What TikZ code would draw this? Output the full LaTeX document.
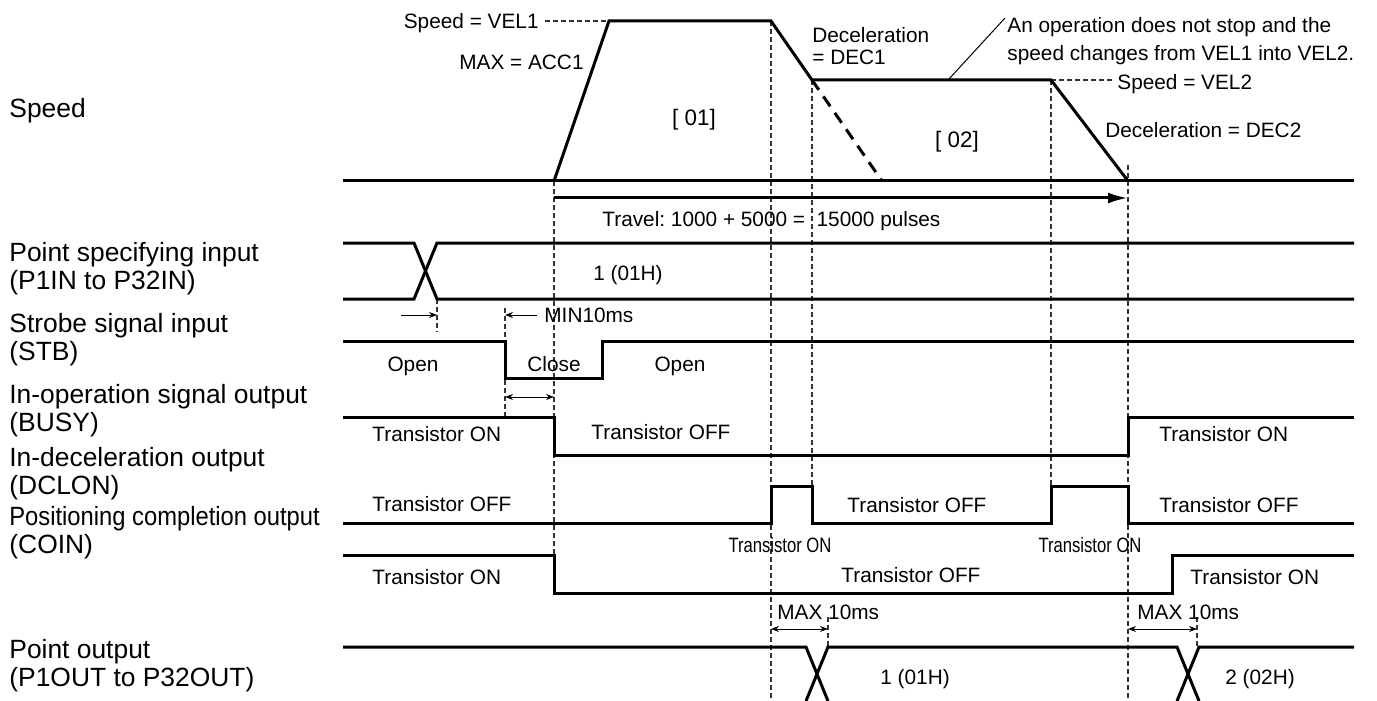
\documentclass[tikz,border=0pt]{standalone}
\usepackage{fontspec}
\setmainfont{Liberation Sans}
\usetikzlibrary{arrows.meta}
\frenchspacing
\newcommand\smallfnt{\fontsize{10.4}{12}\selectfont}
\newcommand\labfnt{\fontsize{13.2}{14}\selectfont}
\newcommand\condensed[1]{\scalebox{0.8}[1]{#1}}
\tikzset{
  sig/.style={line width=1.5pt, line join=miter},
  guide/.style={line width=0.55pt, dash pattern=on 2.5pt off 1.5pt, black!80},
  leader/.style={line width=0.5pt},
  dim/.style={line width=0.5pt, {Stealth[length=4pt,width=3pt]}-{Stealth[length=4pt,width=3pt]}},
  dimr/.style={line width=0.5pt, -{Stealth[length=4pt,width=3pt]}},
  txt/.style={inner sep=0pt, font=\smallfnt},
  lab/.style={inner sep=0pt, anchor=west, align=left, font=\labfnt},
}
\begin{document}
\begin{tikzpicture}[x=0.5pt,y=-0.5pt]
\useasboundingbox (0,0) rectangle (1377,701);
% ---------- left labels
\node[lab] (lspeed) at (9,111) {Speed};
\node[lab] (lpin) at (9,269) {Point specifying input\\(P1IN to P32IN)};
\node[lab] (lstb) at (9,340) {Strobe signal input\\(STB)};
\node[lab] (lbusy) at (9,410.5) {In-operation signal output\\(BUSY)};
\node[lab] (ldcl) at (9,473.5) {In-deceleration output\\(DCLON)};
\node[lab] (lcoin) at (9,533) {\scalebox{0.9}[1]{Positioning completion output}\\(COIN)};
\node[lab] (lpout) at (9,666) {Point output\\(P1OUT to P32OUT)};

% ---------- key coordinates
\coordinate (s0) at (343,181);
\coordinate (a0) at (554,181);
\coordinate (a1) at (609,21);
\coordinate (d0) at (771,21);
\coordinate (d1) at (812,80);
\coordinate (e0) at (1051,80);
\coordinate (e1) at (1128,181);
\coordinate (s1) at (1354,181);
\coordinate (dz) at (882,181);

% ---------- guides (dashed verticals)
\draw[guide] (a0) -- (554,593);
\draw[guide] (d0) -- (771,701);
\draw[guide] (d1) -- (812,486);
\draw[guide] (e0) -- (1051,486);
\draw[guide] (1128,165) -- (1128,701);
\draw[guide] (505,308) -- (505,417);
\draw[guide] (437,299) -- (437,332);
\draw[guide] (828,617) -- (828,647);
\draw[guide] (1197,617) -- (1197,647);
\draw[guide] (545,21) -- (a1);
\draw[guide] (e0) -- (1112,80);

% ---------- speed profile
\draw[sig] (s0) -- (s1);
\draw[sig] (a0) -- (a1) -- (d0) -- (d1) -- (e0) -- (e1);
\draw[sig, dash pattern=on 6pt off 4pt] (d1) -- (dz);
\draw[line width=1.5pt, -{Latex[length=10pt,width=5.5pt]}] (554,198) -- (1128,198);
\draw[leader] (949,79) -- (1005,18);

\node[txt, anchor=base east] (tvel1) at (539,28.5) {Speed = VEL1};
\node[txt, anchor=base east] (tacc) at (584,69.5) {MAX = ACC1};
\node[txt, anchor=base, font=\fontsize{11.2}{12}\selectfont] (t01) at (694,126) {[ 01]};
\node[txt, anchor=base west] (tdec1a) at (812,42.5) {Deceleration};
\node[txt, anchor=base west] (tdec1b) at (812,64.5) {= DEC1};
\node[txt, anchor=base west] (tnote1) at (1007,32.5) {An operation does not stop and the};
\node[txt, anchor=base west] (tnote2) at (1007,60.5) {speed changes from VEL1 into VEL2.};
\node[txt, anchor=base west] (tvel2) at (1117,89.5) {Speed = VEL2};
\node[txt, anchor=base west] (tdec2) at (1105,137.5) {Deceleration = DEC2};
\node[txt, anchor=base, font=\fontsize{11.2}{12}\selectfont] (t02) at (957,148) {[ 02]};
\node[txt, anchor=base west] (ttravel) at (602,226.5) {Travel: 1000 + 5000 = \ 15000 pulses};

% ---------- point specifying input
\draw[sig] (343,243) -- (414,243) -- (437,299) -- (1354,299);
\draw[sig] (343,299) -- (414,299) -- (437,243) -- (1354,243);
\node[txt, anchor=base] (tp1) at (628,280.5) {1 (01H)};
\draw[dimr] (401,315) -- (437,315);
\draw[dimr] (537,315) -- (505,315);
\node[txt, anchor=base west] (tmin) at (544,322.5) {MIN10ms};

% ---------- STB
\draw[sig] (343,341) -- (505,341) -- (505,378) -- (602,378) -- (602,341) -- (1354,341);
\node[txt, anchor=base] (topen1) at (413,371.5) {Open};
\node[txt, anchor=base] (tclose) at (554,371.5) {Close};
\node[txt, anchor=base] (topen2) at (680,371.5) {Open};
\draw[dim] (505,397) -- (554,397);

% ---------- BUSY
\draw[sig] (343,417) -- (554,417) -- (554,455) -- (1128,455) -- (1128,417) -- (1354,417);
\node[txt, anchor=base west] (tb1) at (372,441.5) {Transistor ON};
\node[txt, anchor=base west] (tb2) at (591,439.5) {Transistor OFF};
\node[txt, anchor=base west] (tb3) at (1159,441.5) {Transistor ON};

% ---------- DCLON
\draw[sig] (343,523) -- (771,523) -- (771,486) -- (812,486) -- (812,523) -- (1051,523) -- (1051,486) -- (1128,486) -- (1128,523) -- (1354,523);
\node[txt, anchor=base west] (td1) at (372,511.5) {Transistor OFF};
\node[txt, anchor=base west] (td2) at (847,512.5) {Transistor OFF};
\node[txt, anchor=base west] (td3) at (1159,512.5) {Transistor OFF};
\node[txt, anchor=base] (td4) at (780,552.5) {\condensed{Transistor ON}};
\node[txt, anchor=base] (td5) at (1090,552.5) {\condensed{Transistor ON}};

% ---------- COIN
\draw[sig] (343,555) -- (554,555) -- (554,593) -- (1172,593) -- (1172,555) -- (1354,555);
\node[txt, anchor=base west] (tc1) at (372,584.5) {Transistor ON};
\node[txt, anchor=base west] (tc2) at (841,582.5) {Transistor OFF};
\node[txt, anchor=base west] (tc3) at (1190,584.5) {Transistor ON};

% ---------- point output
\draw[dim] (771,629) -- (828,629);
\draw[dim] (1128,629) -- (1197,629);
\node[txt, anchor=base west] (tm1) at (777,619.5) {MAX 10ms};
\node[txt, anchor=base west] (tm2) at (1137,619.5) {MAX 10ms};
\draw[sig] (343,647) -- (806,647) -- (828,701);
\draw[sig] (806,701) -- (828,647) -- (1177,647) -- (1199,701);
\draw[sig] (1177,701) -- (1199,647) -- (1354,647);
\node[txt, anchor=base west] (to1) at (880,684.5) {1 (01H)};
\node[txt, anchor=base west] (to2) at (1225,684.5) {2 (02H)};
\end{tikzpicture}
\end{document}
